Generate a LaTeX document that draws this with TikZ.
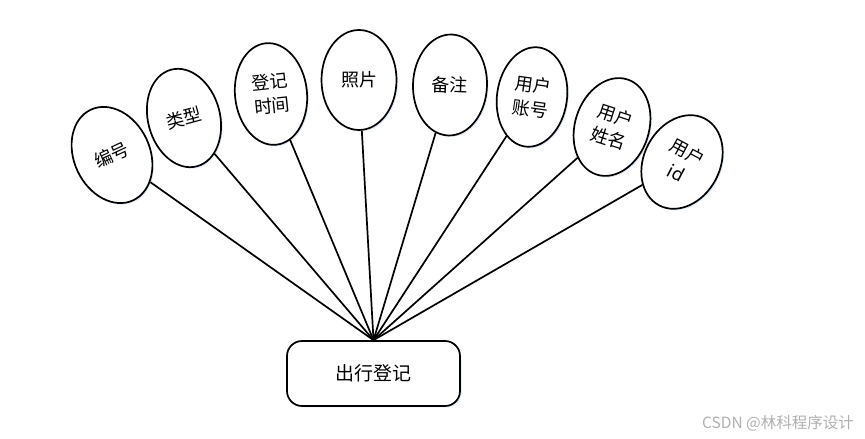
\documentclass[tikz,border=0pt]{standalone}
\usepackage{fontspec}
\newfontfamily\cjk{Noto Sans CJK SC}
\definecolor{mLine}{HTML}{000000}
\definecolor{mGlow}{HTML}{C9DDF2}
\definecolor{mMark}{HTML}{B0B0B0}
\usetikzlibrary{positioning,shapes.geometric,shadows}

\tikzset{
  attr/.style={ellipse, draw=mLine, line width=1.7pt, fill=white, inner sep=0pt,
    align=center, font=\cjk\fontsize{18}{24}\selectfont,
    drop shadow={shadow xshift=1.5pt, shadow yshift=-1.5pt, fill=mGlow, opacity=0.6}},
  ent/.style={rectangle, rounded corners=15pt, draw=mLine, line width=1.7pt, fill=white,
    minimum width=173pt, minimum height=65pt, font=\cjk\fontsize{19}{23}\selectfont,
    drop shadow={shadow xshift=1.5pt, shadow yshift=-1.5pt, fill=mGlow, opacity=0.6}},
  link/.style={draw=mLine, line width=1.7pt}
}

\begin{document}
\begin{tikzpicture}[x=1pt, y=1pt]
\useasboundingbox (0,0) rectangle (865,439);
% entity
\node[ent] (reg) at (373.5,65.5) {出行登记};
% attributes
\node[attr, minimum width=76pt, minimum height=100pt, rotate=25]  (bh)  at (112,284) {编号};
\node[attr, minimum width=72pt, minimum height=100pt, rotate=15]  (lx)  at (184,321) {类型};
\node[attr, minimum width=72pt, minimum height=102pt, rotate=6]   (djsj) at (271,345) {登记\\时间};
\node[attr, minimum width=75pt, minimum height=100pt]             (zp)  at (359,359) {照片};
\node[attr, minimum width=74pt, minimum height=101pt, rotate=-2]  (bz)  at (450,354) {备注};
\node[attr, minimum width=70pt, minimum height=100pt, rotate=-8]  (yhzh) at (532,342) {用户\\账号};
\node[attr, minimum width=74pt, minimum height=100pt, rotate=-18] (yhxm) at (612,312) {用户\\姓名};
\node[attr, minimum width=76pt, minimum height=98pt, rotate=-28]  (yhid) at (682,277) {用户\\id};
% connectors
\foreach \a in {bh,lx,djsj,zp,bz,yhzh,yhxm,yhid}{\draw[link] (reg.north) -- (\a);}
% watermark
\node[mMark, font=\cjk\fontsize{15.5}{18}\selectfont] (mark) at (778,16) {CSDN @林科程序设计};
\end{tikzpicture}
\end{document}
